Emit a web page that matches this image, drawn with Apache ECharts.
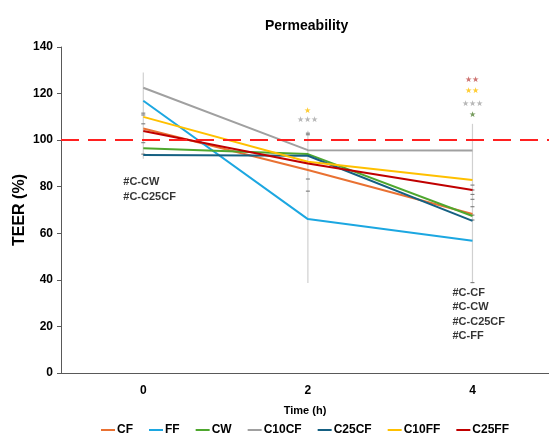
<!DOCTYPE html>
<html>
<head>
<meta charset="utf-8">
<script src="https://cdn.jsdelivr.net/npm/echarts@6/dist/echarts.min.js"></script>
<style>
  html, body { margin: 0; padding: 0; background: #fff; }
  #main { width: 549px; height: 438px; }
</style>
</head>
<body>
<div id="main"></div>
<script>
const times = [0, 2, 4];
const names = ['CF', 'FF', 'CW', 'C10CF', 'C25CF', 'C10FF', 'C25FF'];
const CF    = [105, 87.2, 68.3];
const FF    = [116.9, 66.1, 56.8];
const CW    = [96.5, 94, 67.4];
const C10CF = [122.5, 95.7, 95.5];
const C25CF = [93.6, 93.3, 65.3];
const C10FF = [110, 90.7, 82.9];
const C25FF = [103.9, 90, 78.6];
const reference = 100;

// error bar extents per time point [time, low, high]
const errRanges = [[0, 92, 129], [2, 38.6, 104], [4, 38.6, 107]];
// short caps along the error bars
const errCaps = [
  [0, 111.6], [0, 110.8], [0, 107], [0, 98.9], [0, 94],
  [2, 103], [2, 102.3], [2, 83.3], [2, 78.1],
  [4, 80.7], [4, 78.6], [4, 76.7], [4, 74.6], [4, 71.4], [4, 67.8], [4, 65.7], [4, 38.8]
];
// significance marks [time, value, text, colour]
const stars = [
  [2, 112.6, '★', '#ffc000'],
  [2, 108.6, '★★★', '#a5a5a5'],
  [4, 126, '★★', '#c0504d'],
  [4, 121, '★★', '#ffc000'],
  [4, 115.6, '★★★', '#a5a5a5'],
  [4, 111, '★', '#548235']
];
// notes [time, value, text]
const notes = [
  [0, 82, '#C-CW'],
  [0, 75.6, '#C-C25CF'],
  [4, 34.3, '#C-CF'],
  [4, 28.3, '#C-CW'],
  [4, 21.9, '#C-C25CF'],
  [4, 15.9, '#C-FF']
];

const values = [CF, FF, CW, C10CF, C25CF, C10FF, C25FF];
const colors = ['#e97132', '#1ca7e1', '#4ea72e', '#a0a0a0', '#156082', '#ffc000', '#c00000'];

const myChart = echarts.init(document.getElementById('main'));

const lineSeries = names.map((n, i) => ({
  name: n,
  type: 'line',
  data: values[i].map((v, j) => [times[j], v]),
  symbol: 'none',
  z: 3,
  lineStyle: { width: 2, color: colors[i] },
  itemStyle: { color: colors[i] }
}));

const option = {
  backgroundColor: '#fff',
  animation: false,
  title: {
    text: 'Permeability',
    left: 260,
    top: 14,
    textStyle: { fontFamily: 'Liberation Sans', fontSize: 14, fontWeight: 'bold', color: '#000' }
  },
  legend: {
    data: names,
    bottom: -3,
    left: 96,
    icon: 'rect',
    itemWidth: 14,
    itemHeight: 2,
    itemGap: 16,
    textStyle: { fontFamily: 'Liberation Sans', fontSize: 12, fontWeight: 'bold', color: '#000', padding: [0, 0, 0, -3] }
  },
  grid: { left: 61, top: 47, right: 0, bottom: 65, outerBoundsMode: 'none' },
  xAxis: {
    type: 'value',
    min: -1,
    max: 4.93,
    interval: 1,
    name: 'Time (h)',
    nameLocation: 'middle',
    nameGap: 32,
    nameTextStyle: { fontFamily: 'Liberation Sans', fontSize: 11, fontWeight: 'bold', color: '#000' },
    axisLine: { onZero: false, lineStyle: { color: '#595959', width: 1 } },
    axisTick: { show: false },
    splitLine: { show: false },
    axisLabel: {
      margin: 12,
      showMinLabel: false,
      formatter: v => (v >= 0 && v % 2 === 0 ? String(v) : ''),
      fontFamily: 'Liberation Sans', fontSize: 12, fontWeight: 'bold', color: '#000'
    }
  },
  yAxis: {
    type: 'value',
    min: 0,
    max: 140,
    interval: 20,
    name: 'TEER (%)',
    nameLocation: 'middle',
    nameGap: 33,
    nameMoveOverlap: false,
    nameTextStyle: { fontFamily: 'Liberation Sans', fontSize: 16, fontWeight: 'bold', color: '#000' },
    axisLine: { show: true, onZero: false, lineStyle: { color: '#595959', width: 1 } },
    axisTick: { show: true, length: 4, lineStyle: { color: '#595959' } },
    splitLine: { show: false },
    axisLabel: { margin: 8, fontFamily: 'Liberation Sans', fontSize: 12, fontWeight: 'bold', color: '#000' }
  },
  series: [
    {
      type: 'custom',
      z: 1,
      silent: true,
      data: errRanges,
      renderItem: (params, api) => {
        const lo = api.coord([api.value(0), api.value(1)]);
        const hi = api.coord([api.value(0), api.value(2)]);
        return {
          type: 'line',
          shape: { x1: lo[0], y1: lo[1], x2: hi[0], y2: hi[1] },
          style: { stroke: '#d0d0d0', lineWidth: 1.2 }
        };
      }
    },
    {
      type: 'custom',
      z: 2,
      silent: true,
      data: errCaps,
      renderItem: (params, api) => {
        const p = api.coord([api.value(0), api.value(1)]);
        return {
          type: 'line',
          shape: { x1: p[0] - 2, y1: p[1], x2: p[0] + 2, y2: p[1] },
          style: { stroke: '#707070', lineWidth: 1 }
        };
      }
    },
    ...lineSeries,
    {
      type: 'line',
      data: [],
      z: 4,
      markLine: {
        silent: true,
        symbol: 'none',
        label: { show: false },
        lineStyle: { color: '#ff2020', type: [18, 9], width: 2.2 },
        data: [{ yAxis: reference }]
      }
    },
    {
      type: 'scatter',
      symbolSize: 0,
      z: 5,
      data: stars.map(s => ({
        value: [s[0], s[1]],
        label: { show: true, position: 'inside', formatter: s[2], color: s[3], fontSize: 8 }
      }))
    },
    {
      type: 'scatter',
      symbolSize: 0,
      z: 5,
      data: notes.map(n => ({ value: [n[0], n[1]], name: n[2] })),
      label: {
        show: true,
        position: 'inside',
        align: 'left',
        offset: [-20, 0],
        formatter: p => p.name,
        fontFamily: 'Liberation Sans',
        fontSize: 11,
        fontWeight: 'bold',
        color: '#000'
      }
    }
  ]
};

myChart.setOption(option);
</script>
</body>
</html>
